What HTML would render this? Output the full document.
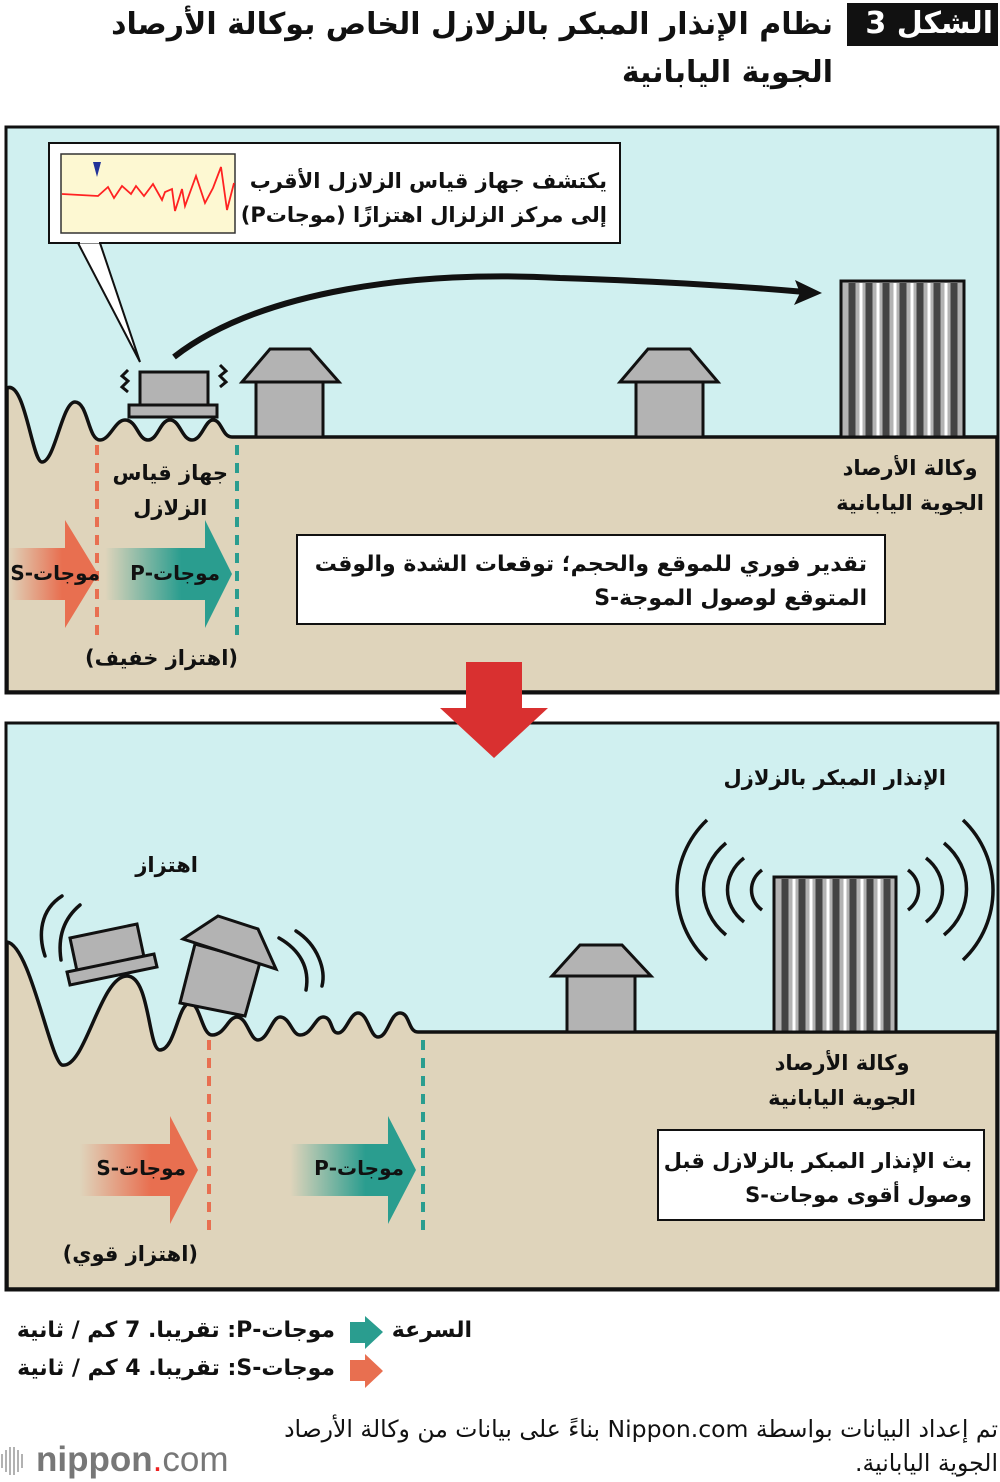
<!DOCTYPE html>
<html><head><meta charset="utf-8"><style>
body{margin:0;width:1000px;height:1482px;background:#fff;position:relative;overflow:hidden;font-family:"DejaVu Sans","Liberation Sans",sans-serif;}
.t{position:absolute;direction:rtl;text-align:right;color:#111;white-space:nowrap;font-weight:bold;}
svg{position:absolute;left:0;top:0}
</style></head><body>
<svg width="1000" height="1482" viewBox="0 0 1000 1482">
<defs>
<linearGradient id="gs" x1="0" x2="1"><stop offset="0" stop-color="#e86f50" stop-opacity="0"/><stop offset="0.6" stop-color="#e86f50"/></linearGradient>
<linearGradient id="gp" x1="0" x2="1"><stop offset="0" stop-color="#2a9d8f" stop-opacity="0"/><stop offset="0.6" stop-color="#2a9d8f"/></linearGradient>
</defs>
<rect x="6" y="127" width="992" height="566" fill="#d0f0f0" stroke="#111" stroke-width="3"/>
<path d="M7,388 C25,380 32,462 42,462 C55,462 62,402 75,402 C88,402 88,440 100,440 C110,440 115,420 125,420 C137,420 138,440 148,440 C158,440 160,420 170,420 C180,420 182,440 192,440 C202,440 205,420 213,420 C222,420 222,437 232,437 L997,437 L997,692 L7,692 Z" fill="#dfd4bb" stroke="#111" stroke-width="3.5"/>
<rect x="6" y="127" width="992" height="566" fill="none" stroke="#111" stroke-width="3"/>
<line x1="97" y1="445" x2="97" y2="640" stroke="#e86f50" stroke-width="4" stroke-dasharray="10,8"/>
<line x1="237" y1="445" x2="237" y2="640" stroke="#2a9d8f" stroke-width="4" stroke-dasharray="10,8"/>
<path d="M8,548 L65,548 L65,520 L98,574 L65,628 L65,600 L8,600 Z" fill="url(#gs)"/>
<path d="M105,548 L205,548 L205,520 L232,574 L205,628 L205,600 L105,600 Z" fill="url(#gp)"/>
<rect x="129" y="405" width="88" height="12" fill="#b3b3b3" stroke="#111" stroke-width="3"/>
<rect x="140" y="372" width="68" height="33" fill="#b3b3b3" stroke="#111" stroke-width="3"/>
<path d="M128,370 l-6,6 l6,5 l-6,6 l6,5" fill="none" stroke="#111" stroke-width="3"/>
<path d="M220,365 l6,6 l-6,5 l6,6 l-6,5" fill="none" stroke="#111" stroke-width="3"/>
<path d="M78,243 L140,362 L100,243" fill="#fff" stroke="#111" stroke-width="2"/>
<rect x="49" y="143" width="571" height="100" fill="#fff" stroke="#111" stroke-width="2"/>
<line x1="80" y1="242" x2="99" y2="242" stroke="#fff" stroke-width="3"/>
<rect x="61" y="154" width="174" height="79" fill="#fdf8d2" stroke="#333" stroke-width="1.5"/>
<path d="M62,194 L98,196 L108,187 L114,198 L122,186 L131,194 L136,186 L144,196 L153,184 L162,200 L165,192 L172,189 L175,211 L182,189 L185,206 L196,176 L205,203 L213,188 L221,167 L227,210 L234,183" fill="none" stroke="#f22" stroke-width="1.8"/>
<path d="M93,162 L101,162 L97,177 Z" fill="#223399"/>
<path d="M174,357 C260,290 420,270 560,278 C680,282 760,288 805,292" fill="none" stroke="#111" stroke-width="6"/>
<path d="M822,293 L795,280 L800,293 L794,305 Z" fill="#111"/>
<g fill="#b3b3b3" stroke="#111" stroke-width="3">
<rect x="256" y="382" width="67" height="55"/><path d="M242,382 L270,349 L310,349 L339,382 Z"/>
<rect x="636" y="382" width="67" height="55"/><path d="M620,382 L648,349 L690,349 L718,382 Z"/>
</g>
<rect x="841" y="281" width="123" height="156" fill="#b3b3b3" stroke="#111" stroke-width="3"/>
<g stroke="#444" stroke-width="7">
<line x1="852" y1="283" x2="852" y2="436"/><line x1="869" y1="283" x2="869" y2="436"/><line x1="886" y1="283" x2="886" y2="436"/><line x1="903" y1="283" x2="903" y2="436"/><line x1="920" y1="283" x2="920" y2="436"/><line x1="937" y1="283" x2="937" y2="436"/><line x1="954" y1="283" x2="954" y2="436"/>
</g>
<g stroke="#fff" stroke-width="3">
<line x1="861" y1="283" x2="861" y2="436"/><line x1="878" y1="283" x2="878" y2="436"/><line x1="895" y1="283" x2="895" y2="436"/><line x1="912" y1="283" x2="912" y2="436"/><line x1="929" y1="283" x2="929" y2="436"/><line x1="946" y1="283" x2="946" y2="436"/>
</g>
<rect x="841" y="281" width="123" height="156" fill="none" stroke="#111" stroke-width="3"/>
<rect x="297" y="535" width="588" height="89" fill="#fff" stroke="#111" stroke-width="2"/>
<rect x="6" y="723" width="992" height="567" fill="#d0f0f0" stroke="#111" stroke-width="3"/>
<path d="M7,942 C30,945 50,1060 62,1065 C85,1070 100,976 127,976 C150,976 148,1050 160,1050 C175,1050 178,1003 190,1003 C200,1003 202,1035 212,1035 C225,1035 228,1017 237,1017 C247,1017 250,1040 258,1040 C268,1040 272,1017 280,1017 C290,1017 292,1035 300,1035 C312,1035 315,1017 323,1017 C333,1017 330,1033 338,1033 C346,1033 350,1013 358,1013 C368,1013 370,1037 378,1037 C388,1037 390,1013 400,1013 C410,1013 408,1032 418,1032 L997,1032 L997,1289 L7,1289 Z" fill="#dfd4bb" stroke="#111" stroke-width="3.5"/>
<rect x="6" y="723" width="992" height="567" fill="none" stroke="#111" stroke-width="3"/>
<path d="M466,662 L522,662 L522,708 L548,708 L494,758 L440,708 L466,708 Z" fill="#d93030"/>
<line x1="209" y1="1040" x2="209" y2="1235" stroke="#e86f50" stroke-width="4" stroke-dasharray="10,8"/>
<line x1="423" y1="1040" x2="423" y2="1235" stroke="#2a9d8f" stroke-width="4" stroke-dasharray="10,8"/>
<path d="M80,1144 L170,1144 L170,1116 L198,1170 L170,1224 L170,1196 L80,1196 Z" fill="url(#gs)"/>
<path d="M290,1144 L388,1144 L388,1116 L416,1170 L388,1224 L388,1196 L290,1196 Z" fill="url(#gp)"/>
<g fill="#b3b3b3" stroke="#111" stroke-width="3">
<path d="M70,938 L137,924 L144,957 L77,971 Z"/>
<path d="M67,972 L154,954 L157,967 L70,985 Z"/>
<path d="M180,1003 L195,944 L260,962 L245,1016 Z"/>
<path d="M183,939 L218,916 L258,929 L276,969 Z"/>
</g>
<g fill="none" stroke="#111" stroke-width="3.5" stroke-linecap="round">
<path d="M62,896 C40,910 38,935 45,956"/>
<path d="M80,905 C62,920 58,940 61,960"/>
<path d="M279,938 C300,950 310,968 306,990"/>
<path d="M296,931 C318,945 326,970 322,986"/>
</g>
<g fill="#b3b3b3" stroke="#111" stroke-width="3">
<rect x="567" y="976" width="68" height="56"/><path d="M552,976 L580,945 L622,945 L651,976 Z"/>
</g>
<rect x="774" y="877" width="122" height="155" fill="#b3b3b3" stroke="#111" stroke-width="3"/>
<g stroke="#444" stroke-width="7">
<line x1="785" y1="879" x2="785" y2="1031"/><line x1="802" y1="879" x2="802" y2="1031"/><line x1="819" y1="879" x2="819" y2="1031"/><line x1="836" y1="879" x2="836" y2="1031"/><line x1="853" y1="879" x2="853" y2="1031"/><line x1="870" y1="879" x2="870" y2="1031"/><line x1="887" y1="879" x2="887" y2="1031"/>
</g>
<g stroke="#fff" stroke-width="3">
<line x1="794" y1="879" x2="794" y2="1031"/><line x1="811" y1="879" x2="811" y2="1031"/><line x1="828" y1="879" x2="828" y2="1031"/><line x1="845" y1="879" x2="845" y2="1031"/><line x1="862" y1="879" x2="862" y2="1031"/><line x1="879" y1="879" x2="879" y2="1031"/>
</g>
<rect x="774" y="877" width="122" height="155" fill="none" stroke="#111" stroke-width="3"/>
<g fill="none" stroke="#111" stroke-width="3.5">
<path d="M762,870 C748,880 748,900 762,910"/>
<path d="M744,858 C722,875 722,905 744,922"/>
<path d="M726,843 C696,868 696,910 726,935"/>
<path d="M707,820 C667,858 667,922 707,960"/>
<path d="M908,870 C922,880 922,900 908,910"/>
<path d="M926,858 C948,875 948,905 926,922"/>
<path d="M944,843 C974,868 974,910 944,935"/>
<path d="M963,820 C1003,858 1003,922 963,960"/>
</g>
<rect x="658" y="1130" width="326" height="90" fill="#fff" stroke="#111" stroke-width="2"/>
<rect x="847" y="3" width="151" height="43" fill="#111"/>
<path d="M350,1322 L365,1322 L365,1316 L383,1332 L365,1349 L365,1343 L350,1343 Z" fill="#2a9d8f"/>
<path d="M350,1360 L365,1360 L365,1354 L383,1371 L365,1388 L365,1381 L350,1381 Z" fill="#e86f50"/>
<g stroke="#999" stroke-width="1.5"><line x1="2" y1="1454" x2="2" y2="1468"/><line x1="6" y1="1450" x2="6" y2="1472"/><line x1="10" y1="1447" x2="10" y2="1475"/><line x1="14" y1="1447" x2="14" y2="1475"/><line x1="18" y1="1450" x2="18" y2="1472"/><line x1="22" y1="1454" x2="22" y2="1468"/></g>
</svg>
<div class="t" style="right:7px;top:4px;font-size:30px;color:#fff;line-height:40px">الشكل 3</div>
<div class="t" style="right:167px;top:1px;font-size:30px;line-height:48px">نظام الإنذار المبكر بالزلازل الخاص بوكالة الأرصاد<br>الجوية اليابانية</div>
<div class="t" style="right:393px;top:164px;font-size:21px;line-height:34px">يكتشف جهاز قياس الزلازل الأقرب<br>إلى مركز الزلزال اهتزازًا (موجاتP)</div>
<div class="t" style="right:772px;top:456px;font-size:21px;line-height:35px;text-align:center">جهاز قياس<br>الزلازل</div>
<div class="t" style="right:16px;top:451px;font-size:21px;line-height:35px;text-align:center">وكالة الأرصاد<br>الجوية اليابانية</div>
<div class="t" style="right:133px;top:548px;font-size:22px;line-height:34px">تقدير فوري للموقع والحجم؛ توقعات الشدة والوقت<br>المتوقع لوصول الموجة-S</div>
<div class="t" style="right:900px;top:561px;font-size:20px">موجات-S</div>
<div class="t" style="right:780px;top:561px;font-size:20px">موجات-P</div>
<div class="t" style="right:762px;top:646px;font-size:21px">(اهتزاز خفيف)</div>
<div class="t" style="right:54px;top:766px;font-size:21px">الإنذار المبكر بالزلازل</div>
<div class="t" style="right:802px;top:853px;font-size:21px">اهتزاز</div>
<div class="t" style="right:84px;top:1046px;font-size:21px;line-height:35px;text-align:center">وكالة الأرصاد<br>الجوية اليابانية</div>
<div class="t" style="right:28px;top:1144px;font-size:21px;line-height:34px">بث الإنذار المبكر بالزلازل قبل<br>وصول أقوى موجات-S</div>
<div class="t" style="right:814px;top:1156px;font-size:20px">موجات-S</div>
<div class="t" style="right:596px;top:1156px;font-size:20px">موجات-P</div>
<div class="t" style="right:802px;top:1242px;font-size:21px">(اهتزاز قوي)</div>
<div class="t" style="right:528px;top:1318px;font-size:22px">السرعة</div>
<div class="t" style="right:665px;top:1318px;font-size:22px">موجات-P: تقريبا. 7 كم / ثانية</div>
<div class="t" style="right:665px;top:1356px;font-size:22px">موجات-S: تقريبا. 4 كم / ثانية</div>
<div class="t" style="right:2px;top:1412px;font-size:23.5px;line-height:34px;font-weight:normal">تم إعداد البيانات بواسطة Nippon.com بناءً على بيانات من وكالة الأرصاد<br>الجوية اليابانية.</div>
<div style="position:absolute;left:36px;top:1438px;font-size:35px;color:#777;font-family:'Liberation Sans',sans-serif;line-height:44px"><b>nippon</b><span style="color:#e22">.</span>com</div>
</body></html>
